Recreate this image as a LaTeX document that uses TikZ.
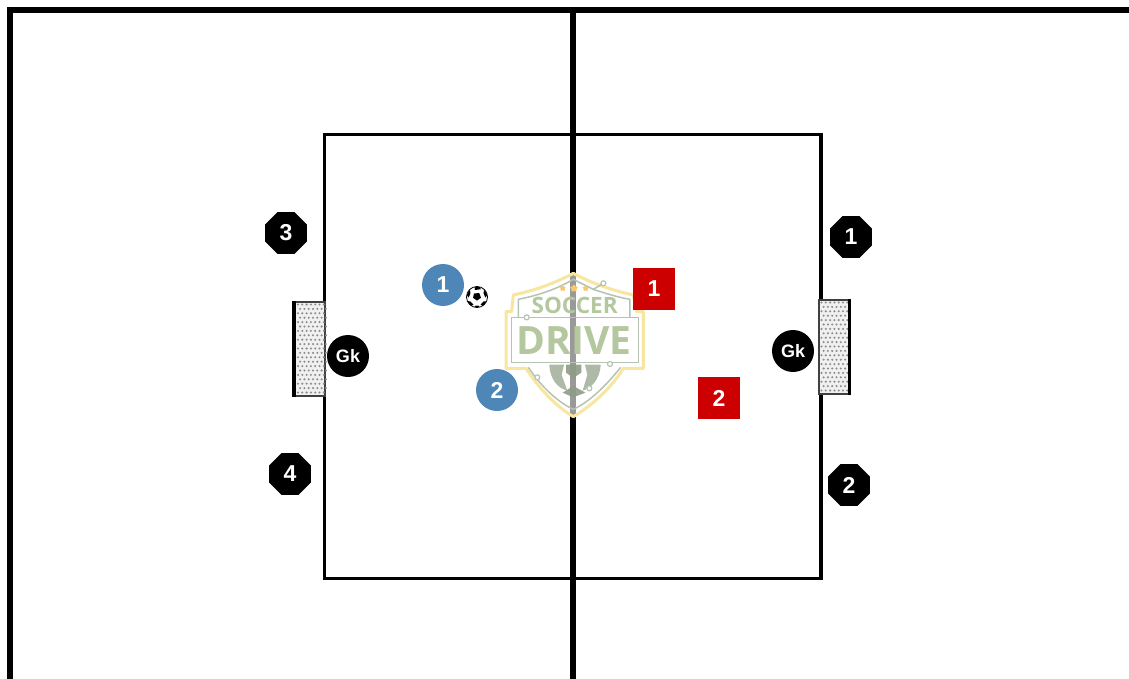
\documentclass[tikz,border=0pt]{standalone}
\usepackage{fontspec}
\setmainfont{Liberation Sans}
\newfontfamily\logofont{Open Sans}
\usetikzlibrary{shapes.geometric}
\definecolor{teamblue}{HTML}{4F86B8}
\definecolor{teamred}{HTML}{CC0000}
\definecolor{logogreen}{HTML}{B4C79E}
\definecolor{logogray}{HTML}{B7C3B2}
\definecolor{logoyellow}{HTML}{F8E6A0}
\definecolor{logodark}{HTML}{8E9C84}
\definecolor{netdot}{HTML}{8C8C8C}
\tikzset{
  lbl/.style={text=white,font=\bfseries\fontsize{23}{23}\selectfont,inner sep=0pt},
  blueplayer/.style={circle,fill=teamblue,minimum size=42pt,lbl},
  redplayer/.style={rectangle,fill=teamred,minimum size=42pt,lbl},
  gk/.style={circle,fill=black,minimum size=42pt,inner sep=0pt,text=white,font=\bfseries\fontsize{18}{18}\selectfont},
  cone/.style={regular polygon,regular polygon sides=8,fill=black,minimum size=45pt,lbl},
  pitchline/.style={draw=black,line width=3.5pt,line cap=rect},
  boundary/.style={draw=black,line width=6pt},
  centreline/.style={draw=black,line width=5.4pt},
  netbox/.style={fill=black!6,draw=black!75,line width=1.2pt},
  logotrace/.style={draw=logogray,line width=1.5pt},
  logopin/.style={draw=logogray,fill=white,line width=1.2pt},
}
\newcommand{\shieldpath}{(250,40) .. controls (190,72) and (130,92) .. (70,105) -- (65,155) -- (48,155) -- (48,325) -- (108,325) .. controls (150,390) and (200,440) .. (250,470) .. controls (300,440) and (360,390) .. (400,325) -- (460,325) -- (460,155) -- (440,155) -- (430,105) .. controls (370,92) and (310,72) .. (250,40) -- cycle}
\begin{document}
\begin{tikzpicture}[x=1pt,y=-1pt]
\useasboundingbox (0,0) rectangle (1129,679);
\fill[white] (0,0) rectangle (1129,679);
% pitch
\draw[boundary] (1129,10) -- (10,10) -- (10,679);
\draw[pitchline] (324.3,134.3) rectangle (821,578.3);
\draw[centreline] (573,10) -- (573,679);
% left goal
\draw[netbox] (294,302) rectangle (325,396);
\foreach \r in {0,...,20}{\foreach \c in {0,...,6}{
  \fill[netdot] ({298+\c*4.3+mod(\r,2)*2.1},{304.5+\r*4.4}) circle (1.15);}}
\draw[black,line width=4.5pt] (294,301) -- (294,397);
% right goal
\draw[netbox] (819,300) rectangle (849,394);
\foreach \r in {0,...,20}{\foreach \c in {0,...,6}{
  \fill[netdot] ({821.5+\c*4.3+mod(\r,2)*2.1},{302.5+\r*4.4}) circle (1.15);}}
\draw[black,line width=3pt] (849,299) -- (849,395);
% logo
\begin{scope}[shift={(490,260)},x=0.3333pt,y=-0.3333pt]
  \path[fill=white,fill opacity=.6] \shieldpath;
  \draw[draw=logoyellow,line width=3pt,line join=round] \shieldpath;
  \draw[logotrace] (85,172) -- (85,118) .. controls (150,105) and (205,85) .. (250,58) -- (310,88) -- (340,70);
  \draw[logotrace] (310,88) .. controls (345,100) and (385,112) .. (420,118) -- (420,172);
  \draw[logotrace] (115,322) .. controls (150,375) and (200,425) .. (250,448) .. controls (300,425) and (350,375) .. (392,322);
  \draw[logotrace] (65,172) -- (445,172) -- (445,308) -- (65,308) -- cycle;
  % ball
  \fill[logodark,opacity=.7] (178,314) .. controls (180,360) and (205,385) .. (232,392) -- (215,345) -- (222,314) -- cycle;
  \fill[logodark,opacity=.7] (332,314) .. controls (330,360) and (302,385) .. (278,392) -- (292,345) -- (285,314) -- cycle;
  \fill[logodark,opacity=.9] (228,314) -- (274,314) -- (274,338) -- (250,354) -- (228,338) -- cycle;
  \fill[logodark,opacity=.9] (218,398) -- (250,378) -- (286,398) -- (250,412) -- cycle;
  \node[logopin,circle,inner sep=0pt,minimum size=5pt] (pinA) at (340,70) {};
  \node[logopin,circle,inner sep=0pt,minimum size=5pt] (pinB) at (110,172) {};
  \node[logopin,circle,inner sep=0pt,minimum size=5pt] (pinC) at (360,312) {};
  \node[logopin,circle,inner sep=0pt,minimum size=5pt] (pinD) at (142,352) {};
  \node[logopin,circle,inner sep=0pt,minimum size=5pt] (pinE) at (298,385) {};
  \node[text=logogreen,font=\logofont\bfseries\fontsize{22.5}{22}\selectfont,inner sep=0pt] (soccer) at (254,135) {SOCCER};
  \node[text=logogreen,font=\logofont\bfseries\fontsize{39}{39}\selectfont,inner sep=0pt] (drive) at (252,241) {DRIVE};
  \foreach \x/\s in {218/3.5,252/4.5,287/3.5}
    \node[star,star points=5,fill=logoyellow!70!orange,inner sep=0pt,minimum size=\s*1.8pt] at (\x,85) {};
\end{scope}
% players
\node[blueplayer] (b1) at (443,285) {1};
\node[blueplayer] (b2) at (497,390) {2};
\node[redplayer] (r1) at (654,289) {1};
\node[redplayer] (r2) at (719,398) {2};
\node[gk] (g1) at (348,356) {Gk};
\node[gk] (g2) at (793,351) {Gk};
\node[cone] (c3) at (286,233) {3};
\node[cone] (c4) at (290,474) {4};
\node[cone] (c1) at (851,237) {1};
\node[cone] (c2) at (849,485) {2};
% ball
\begin{scope}[shift={(477,297)}]
  \draw[black,fill=white,line width=.8pt] (0,0) circle (10.5);
  \fill[black] (-3,-3.5) -- (2.2,-4) -- (4,.8) -- (0,3.6) -- (-4,.8) -- cycle;
  \fill[black] (-2.5,-10) -- (3,-10) -- (3.8,-7.8) -- (-2,-7) -- cycle;
  \fill[black] (7,-7.5) -- (10.3,-2) -- (8.4,.5) -- (6.6,-3.4) -- cycle;
  \fill[black] (6.5,4.5) -- (9.5,4.2) -- (6,8.8) -- (3.6,7.6) -- cycle;
  \fill[black] (-6.5,4.5) -- (-9.6,4) -- (-6,8.8) -- (-3.5,7.6) -- cycle;
  \fill[black] (-7,-7.5) -- (-10.3,-2) -- (-8.4,.5) -- (-6.6,-3.4) -- cycle;
  \fill[black] (-2.5,10.2) -- (2.5,10.2) -- (1.5,8.6) -- (-1.5,8.6) -- cycle;
\end{scope}
\end{tikzpicture}
\end{document}
